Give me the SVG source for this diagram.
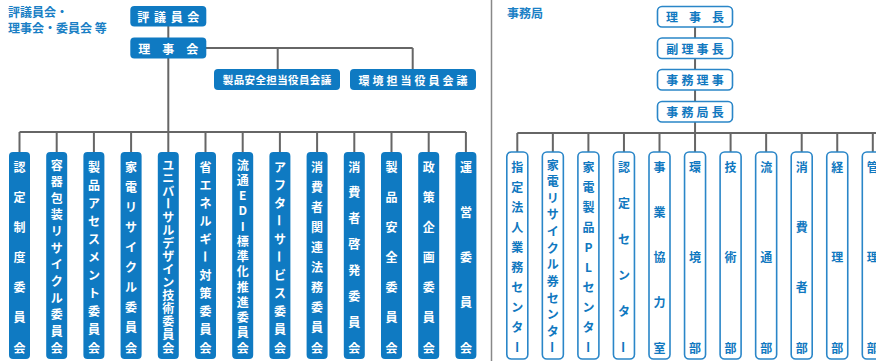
<svg xmlns="http://www.w3.org/2000/svg" width="876" height="361" viewBox="0 0 876 361">
<style>
.t{font-family:"Noto Sans CJK JP","Noto Sans",sans-serif;font-weight:bold;text-anchor:middle;dominant-baseline:central}
.w{fill:#fff;font-size:12px}
.b{fill:#1078c0;font-size:12px}
.fb{fill:#0f7ac2}
.wb{fill:#fff;stroke:#2a86c8;stroke-width:1.6}
.ln{stroke:#666;stroke-width:2;fill:none}
.lbl{font-family:"Noto Sans CJK JP","Noto Sans",sans-serif;font-weight:bold;fill:#1a7fc5}
</style>
<rect width="876" height="361" fill="#fff"/>
<line x1="491.5" y1="0" x2="491.5" y2="361" stroke="#888" stroke-width="1.5"/>
<text class="lbl" x="8" y="17" font-size="12">評議員会・</text>
<text class="lbl" x="8" y="32.5" font-size="12">理事会・委員会 等</text>
<text class="lbl" x="507" y="18" font-size="12">事務局</text>
<g id="connectors">
<path class="ln" d="M168.3 26V132M19.5 132H465.9M206 48H412.7M277.7 48V69M412.7 48V69"/>
<path class="ln" d="M19.5 132V152M56.7 132V152M93.9 132V152M131.1 132V152M168.3 132V152M205.5 132V152M242.7 132V152M279.9 132V152M317.1 132V152M354.3 132V152M391.5 132V152M428.7 132V152M465.9 132V152"/>
<path class="ln" d="M695.05 27V133M517.3 133H876"/>
<path class="ln" d="M517.3 133V152M552.85 133V152M588.4 133V152M623.95 133V152M659.5 133V152M695.05 133V152M730.6 133V152M766.15 133V152M801.7 133V152M837.25 133V152M872.8 133V152"/>
</g>
<g id="hyogiinkai"><rect class="fb" x="130.3" y="6" width="76" height="20.5" rx="4"/><text class="t w" x="143.3 160 176.7 193.3" y="16.5">評議員会</text></g>
<g id="rijikai"><rect class="fb" x="130.3" y="37.5" width="76" height="21" rx="4"/><text class="t w" x="144.3 168.3 192.3" y="48">理事会</text></g>
<g id="seihin-yakuin"><rect class="fb" x="214" y="69" width="126" height="21" rx="4"/><text class="t w" style="font-size:10.5px" x="228 238.9 249.8 260.7 271.6 282.4 293.3 304.2 315.1 326" y="79.5">製品安全担当役員会議</text></g>
<g id="kankyo-yakuin"><rect class="fb" x="350" y="69" width="126" height="21" rx="4"/><text class="t w" style="font-size:11px" x="364 378 392 406 420 434 448 462" y="79.5">環境担当役員会議</text></g>

<g id="l1"><rect class="fb" x="9" y="152" width="21" height="207" rx="4"/><text class="t w" x="19.5 19.5 19.5 19.5 19.5 19.5 19.5" y="166 196.2 226.3 256.5 286.7 316.8 347">認定制度委員会</text></g>
<g id="l2"><rect class="fb" x="46.2" y="152" width="21" height="207" rx="4"/><text class="t w" x="56.7 56.7 56.7 56.7 56.7 56.7 56.7 56.7 56.7 56.7 56.7 56.7" y="164 180.6 197.3 213.9 230.6 247.2 263.8 280.5 297.1 313.8 330.4 347">容器包装リサイクル委員会</text></g>
<g id="l3"><rect class="fb" x="83.4" y="152" width="21" height="207" rx="4"/><text class="t w" x="93.9 93.9 93.9 93.9 93.9 93.9 93.9 93.9 93.9 93.9 93.9" y="166 184.1 202.2 220.3 238.4 256.5 274.6 292.7 310.8 328.9 347">製品アセスメント委員会</text></g>
<g id="l4"><rect class="fb" x="120.6" y="152" width="21" height="207" rx="4"/><text class="t w" x="131.1 131.1 131.1 131.1 131.1 131.1 131.1 131.1 131.1 131.1" y="166 186.1 206.2 226.3 246.4 266.6 286.7 306.8 326.9 347">家電リサイクル委員会</text></g>
<g id="l5"><rect class="fb" x="157.8" y="152" width="21" height="207" rx="4"/><text class="t w" x="168.3 168.3 168.3 168.3 168.3 168.3 168.3 168.3 168.3 168.3 168.3 168.3 168.3 168.3" y="164 177.1 190.1 216.3 229.4 242.4 255.5 268.6 281.6 294.7 307.8 320.9 333.9 347">ユニバサルデザイン技術委員会</text><text class="t w" x="168.3" y="203.2" transform="rotate(90 168.3 203.2)">ー</text></g>
<g id="l6"><rect class="fb" x="195" y="152" width="21" height="207" rx="4"/><text class="t w" x="205.5 205.5 205.5 205.5 205.5 205.5 205.5 205.5 205.5 205.5" y="166 184.1 202.2 220.3 238.4 274.6 292.7 310.8 328.9 347">省エネルギ対策委員会</text><text class="t w" x="205.5" y="256.5" transform="rotate(90 205.5 256.5)">ー</text></g>
<g id="l7"><rect class="fb" x="232.2" y="152" width="21" height="207" rx="4"/><text class="t w" x="242.7 242.7 242.7 242.7 242.7 242.7 242.7 242.7 242.7 242.7 242.7 242.7 242.7" y="164 179.3 194.5 209.8 225 240.3 255.5 270.8 286 301.3 316.5 331.8 347">流通EDI標準化推進委員会</text></g>
<g id="l8"><rect class="fb" x="269.4" y="152" width="21" height="207" rx="4"/><text class="t w" x="279.9 279.9 279.9 279.9 279.9 279.9 279.9 279.9 279.9" y="166 184.1 202.2 238.4 274.6 292.7 310.8 328.9 347">アフタサビス委員会</text><text class="t w" x="279.9" y="220.3" transform="rotate(90 279.9 220.3)">ー</text><text class="t w" x="279.9" y="256.5" transform="rotate(90 279.9 256.5)">ー</text></g>
<g id="l9"><rect class="fb" x="306.6" y="152" width="21" height="207" rx="4"/><text class="t w" x="317.1 317.1 317.1 317.1 317.1 317.1 317.1 317.1 317.1 317.1" y="166 186.1 206.2 226.3 246.4 266.6 286.7 306.8 326.9 347">消費者関連法務委員会</text></g>
<g id="l10"><rect class="fb" x="343.8" y="152" width="21" height="207" rx="4"/><text class="t w" x="354.3 354.3 354.3 354.3 354.3 354.3 354.3 354.3" y="166 191.9 217.7 243.6 269.4 295.3 321.1 347">消費者啓発委員会</text></g>
<g id="l11"><rect class="fb" x="381" y="152" width="21" height="207" rx="4"/><text class="t w" x="391.5 391.5 391.5 391.5 391.5 391.5 391.5" y="166 196.2 226.3 256.5 286.7 316.8 347">製品安全委員会</text></g>
<g id="l12"><rect class="fb" x="418.2" y="152" width="21" height="207" rx="4"/><text class="t w" x="428.7 428.7 428.7 428.7 428.7 428.7 428.7" y="166 196.2 226.3 256.5 286.7 316.8 347">政策企画委員会</text></g>
<g id="l13"><rect class="fb" x="455.4" y="152" width="21" height="207" rx="4"/><text class="t w" x="465.9 465.9 465.9 465.9 465.9" y="166 211.3 256.5 301.8 347">運営委員会</text></g>

<g id="richo"><rect class="wb" x="657.5" y="6.5" width="75" height="20.5" rx="4.5"/><text class="t b" x="672 695 718" y="16.8">理事長</text></g>
<g id="fukuricho"><rect class="wb" x="657.5" y="38" width="75" height="20.5" rx="4.5"/><text class="t b" x="672.2 687.4 702.6 717.8" y="48.3">副理事長</text></g>
<g id="jimuriji"><rect class="wb" x="657.5" y="69.5" width="75" height="20.5" rx="4.5"/><text class="t b" x="672.2 687.4 702.6 717.8" y="79.8">事務理事</text></g>
<g id="jimukyokucho"><rect class="wb" x="657.5" y="101.5" width="75" height="20.5" rx="4.5"/><text class="t b" x="672.2 687.4 702.6 717.8" y="111.8">事務局長</text></g>

<g id="r1"><rect class="wb" x="506.8" y="152" width="21" height="207" rx="4.5"/><text class="t b" x="517.3 517.3 517.3 517.3 517.3 517.3 517.3 517.3 517.3" y="166 186.1 206.2 226.3 246.4 266.6 286.7 306.8 326.9">指定法人業務センタ</text><text class="t b" x="517.3" y="347" transform="rotate(90 517.3 347)">ー</text></g>
<g id="r2"><rect class="wb" x="542.35" y="152" width="21" height="207" rx="4.5"/><text class="t b" x="552.85 552.85 552.85 552.85 552.85 552.85 552.85 552.85 552.85 552.85 552.85" y="164 180.6 197.3 213.9 230.6 247.2 263.8 280.5 297.1 313.8 330.4">家電リサイクル券センタ</text><text class="t b" x="552.85" y="347" transform="rotate(90 552.85 347)">ー</text></g>
<g id="r3"><rect class="wb" x="577.9" y="152" width="21" height="207" rx="4.5"/><text class="t b" x="588.4 588.4 588.4 588.4 588.4 588.4 588.4 588.4 588.4" y="166 186.1 206.2 226.3 246.4 266.6 286.7 306.8 326.9">家電製品PLセンタ</text><text class="t b" x="588.4" y="347" transform="rotate(90 588.4 347)">ー</text></g>
<g id="r4"><rect class="wb" x="613.45" y="152" width="21" height="207" rx="4.5"/><text class="t b" x="623.95 623.95 623.95 623.95 623.95" y="166 202.2 238.4 274.6 310.8">認定センタ</text><text class="t b" x="623.95" y="347" transform="rotate(90 623.95 347)">ー</text></g>
<g id="r5"><rect class="wb" x="649" y="152" width="21" height="207" rx="4.5"/><text class="t b" x="659.5 659.5 659.5 659.5 659.5" y="166 211.3 256.5 301.8 347">事業協力室</text></g>
<g id="r6"><rect class="wb" x="684.55" y="152" width="21" height="207" rx="4.5"/><text class="t b" x="695.05 695.05 695.05" y="166 256.5 347">環境部</text></g>
<g id="r7"><rect class="wb" x="720.1" y="152" width="21" height="207" rx="4.5"/><text class="t b" x="730.6 730.6 730.6" y="166 256.5 347">技術部</text></g>
<g id="r8"><rect class="wb" x="755.65" y="152" width="21" height="207" rx="4.5"/><text class="t b" x="766.15 766.15 766.15" y="166 256.5 347">流通部</text></g>
<g id="r9"><rect class="wb" x="791.2" y="152" width="21" height="207" rx="4.5"/><text class="t b" x="801.7 801.7 801.7 801.7" y="166 226.3 286.7 347">消費者部</text></g>
<g id="r10"><rect class="wb" x="826.75" y="152" width="21" height="207" rx="4.5"/><text class="t b" x="837.25 837.25 837.25" y="166 256.5 347">経理部</text></g>
<g id="r11"><rect class="wb" x="862.3" y="152" width="21" height="207" rx="4.5"/><text class="t b" x="872.8 872.8 872.8" y="166 256.5 347">管理部</text></g>
</svg>
